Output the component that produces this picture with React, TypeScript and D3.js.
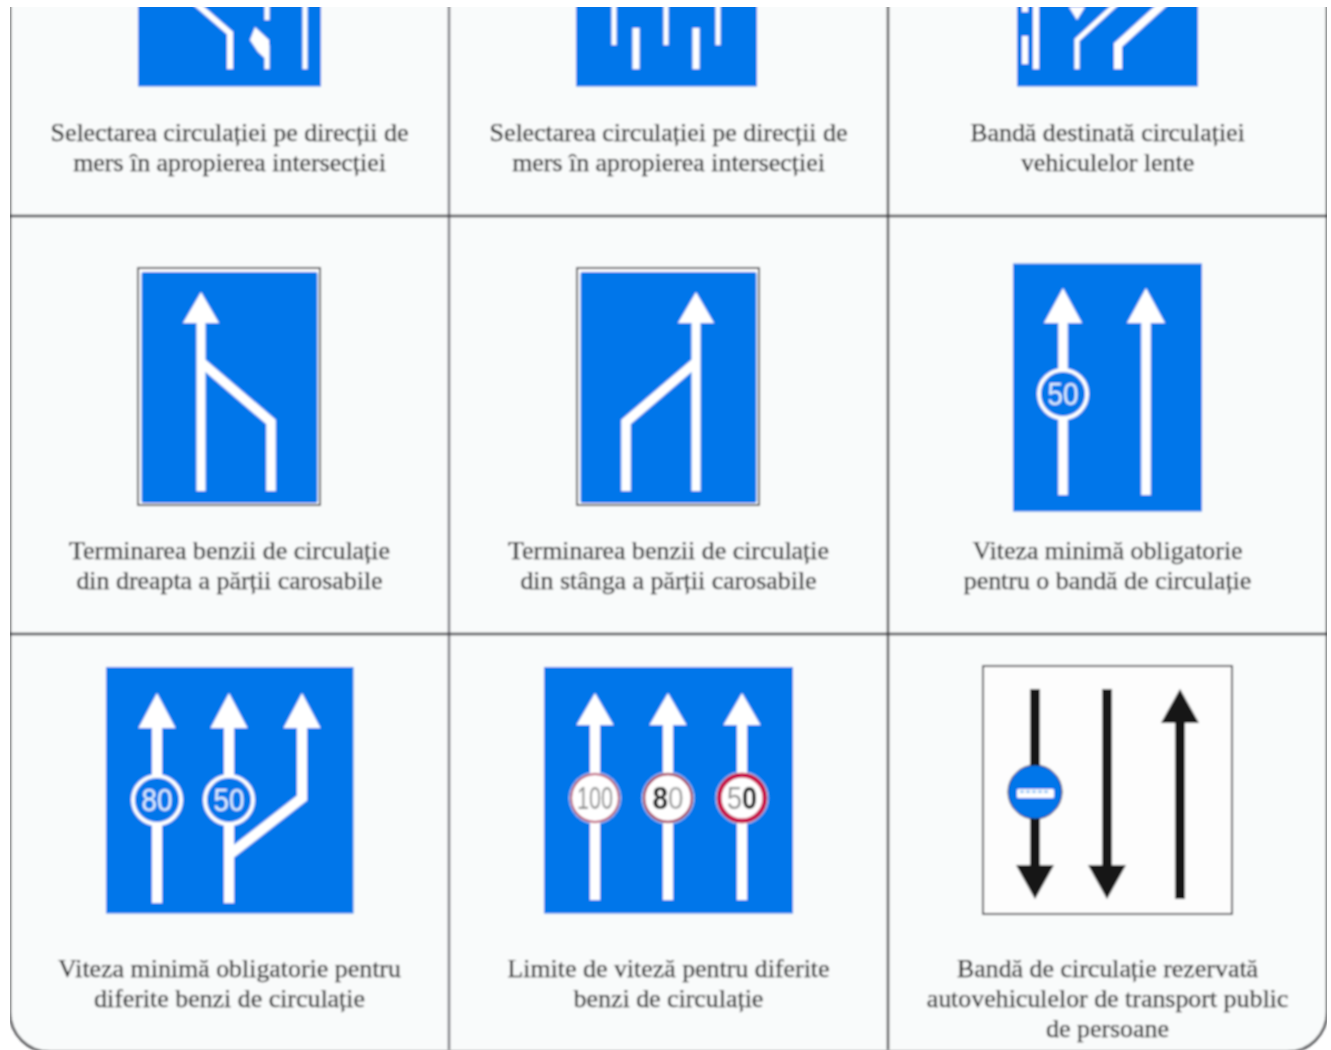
import * as d3 from 'd3';

const WIDTH = 1331;
const HEIGHT = 1050;

const BLUE = '#0676ea';
const INK = '#141414';
const GRID = '#3e3e42';

// grid: 3 columns, rows repeat every 418px, first row is cut off by the top of the page
const colEdges = [0, 1, 2, 3];
const rowEdges = [-1, 0, 1, 2];
const colStroke = ['#6e6e74', '#404044'];
const colScale = d3.scaleLinear().domain([0, 3]).range([10, 1327]);
const rowScale = d3.scaleLinear().domain([0, 2]).range([216, 1052]);

const captions = [
  { col: 0, row: -1, lines: ['Selectarea circulației pe direcții de', 'mers în apropierea intersecției'] },
  { col: 1, row: -1, lines: ['Selectarea circulației pe direcții de', 'mers în apropierea intersecției'] },
  { col: 2, row: -1, lines: ['Bandă destinată circulației', 'vehiculelor lente'] },
  { col: 0, row: 0, lines: ['Terminarea benzii de circulație', 'din dreapta a părții carosabile'] },
  { col: 1, row: 0, lines: ['Terminarea benzii de circulație', 'din stânga a părții carosabile'] },
  { col: 2, row: 0, lines: ['Viteza minimă obligatorie', 'pentru o bandă de circulație'] },
  { col: 0, row: 1, lines: ['Viteza minimă obligatorie pentru', 'diferite benzi de circulație'] },
  { col: 1, row: 1, lines: ['Limite de viteză pentru diferite', 'benzi de circulație'] },
  { col: 2, row: 1, lines: ['Bandă de circulație rezervată', 'autovehiculelor de transport public', 'de persoane'] },
];

// sign plates, in cell units: [x0, y0, x1, y1]
const plates = [
  { col: 0, row: -1, box: [128, 52, 311, 288.5], kind: 'blue' },
  { col: 1, row: -1, box: [127, 52, 308, 288.5], kind: 'blue' },
  { col: 2, row: -1, box: [129, 52, 310, 288.5], kind: 'blue' },
  { col: 0, row: 0, box: [128, 52, 310, 289], kind: 'framed' },
  { col: 1, row: 0, box: [128, 52, 310, 289], kind: 'framed' },
  { col: 2, row: 0, box: [125, 47.5, 314, 295.5], kind: 'blue' },
  { col: 0, row: 1, box: [96, 33, 343.5, 279.5], kind: 'blue' },
  { col: 1, row: 1, box: [95, 33, 344, 279.5], kind: 'blue' },
  { col: 2, row: 1, box: [95, 32, 344, 280], kind: 'white' },
];

// lane strokes, in cell units
const lanes = [
  { col: 0, row: -1, w: 6, pts: [[160, 183], [220, 235], [220, 271]] },
  { col: 0, row: -1, w: 5, pts: [[295, 150], [295, 271]] },
  { col: 0, row: -1, w: 5, pts: [[257, 150], [257, 222]] },
  { col: 0, row: -1, w: 5, pts: [[257, 247], [257, 271]] },
  { col: 1, row: -1, w: 5, pts: [[165, 150], [165, 247]] },
  { col: 1, row: -1, w: 7, pts: [[187, 230], [187, 271]] },
  { col: 1, row: -1, w: 5, pts: [[217, 150], [217, 247]] },
  { col: 1, row: -1, w: 7, pts: [[247, 230], [247, 271]] },
  { col: 1, row: -1, w: 5, pts: [[269, 150], [269, 247]] },
  { col: 2, row: -1, w: 6, pts: [[137, 150], [137, 214]] },
  { col: 2, row: -1, w: 6, pts: [[137, 238], [137, 266]] },
  { col: 2, row: -1, w: 6, pts: [[148, 150], [148, 271]] },
  { col: 2, row: -1, w: 5, pts: [[189, 271], [189, 242], [265, 172]] },
  { col: 2, row: -1, w: 8, pts: [[230, 271], [230, 247], [297, 186]] },
  { col: 0, row: 0, w: 9, pts: [[191, 107], [191, 275]] },
  { col: 0, row: 0, w: 9.5, pts: [[191, 146], [261, 206], [261, 275]] },
  { col: 1, row: 0, w: 9, pts: [[247, 107], [247, 275]] },
  { col: 1, row: 0, w: 9.5, pts: [[247, 146], [177, 206], [177, 275]] },
  { col: 2, row: 0, w: 9.5, pts: [[175, 107], [175, 279]] },
  { col: 2, row: 0, w: 9.5, pts: [[258, 107], [258, 279]] },
  { col: 0, row: 1, w: 10, pts: [[147, 94], [147, 269]] },
  { col: 0, row: 1, w: 10, pts: [[219, 94], [219, 269]] },
  { col: 0, row: 1, w: 10, pts: [[292, 94], [292, 164], [219, 221]] },
  { col: 1, row: 1, w: 10, pts: [[146, 91], [146, 266]] },
  { col: 1, row: 1, w: 10, pts: [[219, 91], [219, 266]] },
  { col: 1, row: 1, w: 10, pts: [[293, 91], [293, 266]] },
  { col: 2, row: 1, w: 10, dark: true, pts: [[147, 55], [147, 235]] },
  { col: 2, row: 1, w: 10, dark: true, pts: [[219, 55], [219, 235]] },
  { col: 2, row: 1, w: 10, dark: true, pts: [[292, 89], [292, 265]] },
];

// arrow heads: tip and base centre, half width
const heads = [
  { col: 0, row: 0, x: 191, tip: 76, base: 107, hw: 18 },
  { col: 1, row: 0, x: 247, tip: 76, base: 107, hw: 18 },
  { col: 2, row: 0, x: 175, tip: 72, base: 107, hw: 19 },
  { col: 2, row: 0, x: 258, tip: 72, base: 107, hw: 19 },
  { col: 0, row: 1, x: 147, tip: 59, base: 94, hw: 18.5 },
  { col: 0, row: 1, x: 219, tip: 59, base: 94, hw: 18.5 },
  { col: 0, row: 1, x: 292, tip: 59, base: 94, hw: 18.5 },
  { col: 1, row: 1, x: 146, tip: 59, base: 91, hw: 18.5 },
  { col: 1, row: 1, x: 219, tip: 59, base: 91, hw: 18.5 },
  { col: 1, row: 1, x: 293, tip: 59, base: 91, hw: 18.5 },
  { col: 2, row: 1, x: 147, tip: 265, base: 231, hw: 19, dark: true },
  { col: 2, row: 1, x: 219, tip: 265, base: 231, hw: 19, dark: true },
  { col: 2, row: 1, x: 292, tip: 55, base: 89, hw: 19, dark: true },
];

// odd shapes in the cut-off signs
const blobs = [
  { col: 0, row: -1, pts: [[245, 229], [240, 242], [248, 254], [259, 264], [259, 242]] },
  { col: 2, row: -1, pts: [[181, 209], [197, 209], [189, 222]] },
];

// speed discs. digits carry their own colour and weight where the scan smeared them
const discs = [
  { col: 2, row: 0, x: 175, y: 178, r: 24, ring: '#fff', ringW: 4, fill: BLUE, span: 31, digits: [{ t: '50', c: '#e6f3ff' }] },
  { col: 0, row: 1, x: 147, y: 166, r: 24, ring: '#fff', ringW: 4, fill: BLUE, span: 31, digits: [{ t: '80', c: '#e6f3ff' }] },
  { col: 0, row: 1, x: 219, y: 166, r: 24, ring: '#fff', ringW: 4, fill: BLUE, span: 31, digits: [{ t: '50', c: '#e6f3ff' }] },
  { col: 1, row: 1, x: 146, y: 164, r: 24, ring: '#b5305c', ringW: 2, fill: '#fff', span: 36, digits: [{ t: '100', c: '#8a8a8a' }] },
  { col: 1, row: 1, x: 219, y: 164, r: 24, ring: '#a52a55', ringW: 2.5, fill: '#fff', span: 31, digits: [{ t: '8', c: '#000', b: true }, { t: '0', c: '#9a9a9a' }] },
  { col: 1, row: 1, x: 293, y: 164, r: 23, ring: '#c8104a', ringW: 5, fill: '#fff', span: 30, digits: [{ t: '5', c: '#8a8a8a' }, { t: '0', c: '#000', b: true }] },
];

// bus disc on the last sign
const busDisc = { col: 2, row: 1, x: 147, y: 158, r: 27 };
const busBody = [129, 155, 37, 9];
const busWindows = [132, 138, 144, 150, 156];

function cellX(col: number) {
  return d3.scaleLinear().domain([0, 439]).range([colScale(col), colScale(col + 1)]);
}

function cellY(row: number) {
  return d3.scaleLinear().domain([0, 418]).range([rowScale(row), rowScale(row + 1)]);
}

function path(col: number, row: number, pts: number[][], closed = false) {
  const x = cellX(col);
  const y = cellY(row);
  const line = d3.line<number[]>().x(d => x(d[0])).y(d => y(d[1]));
  return line(pts) + (closed ? 'Z' : '');
}

function Plate({ p }: { p: (typeof plates)[number] }) {
  const x = cellX(p.col);
  const y = cellY(p.row);
  const [x0, y0, x1, y1] = p.box;
  const common = { x: x(x0), y: y(y0), width: x(x1) - x(x0), height: y(y1) - y(y0) };
  if (p.kind === 'framed') {
    return (
      <g>
        <rect {...common} fill="#fff" stroke="#3e3e42" strokeWidth={1.8} />
        <rect x={x(x0) + 3.5} y={y(y0) + 4} width={x(x1) - x(x0) - 6} height={y(y1) - y(y0) - 6} rx={2} fill={BLUE} />
      </g>
    );
  }
  if (p.kind === 'white') {
    return <rect {...common} fill="#fdfdfd" stroke="#3e3e42" strokeWidth={1.8} />;
  }
  return <rect {...common} fill={BLUE} />;
}

function Disc({ d }: { d: (typeof discs)[number] }) {
  const cx = cellX(d.col)(d.x);
  const cy = cellY(d.row)(d.y);
  return (
    <g>
      <circle cx={cx} cy={cy} r={d.r} fill={d.fill} stroke={d.ring} strokeWidth={d.ringW} />
      {d.fill !== BLUE && <circle cx={cx} cy={cy} r={d.r + d.ringW / 2 + 0.5} fill="none" stroke="#fff" strokeWidth={0.8} />}
      <text
        x={cx}
        y={cy + 11}
        textAnchor="middle"
        fontFamily="'Liberation Sans', sans-serif"
        fontSize={31}
        textLength={d.span}
        lengthAdjust="spacingAndGlyphs"
      >
        {d.digits.map((g, i) => (
          <tspan key={i} fill={g.c} fontWeight={g.b ? 700 : 400}>{g.t}</tspan>
        ))}
      </text>
    </g>
  );
}

function BusDisc() {
  const x = cellX(busDisc.col);
  const y = cellY(busDisc.row);
  const [bx, by, bw, bh] = busBody;
  return (
    <g>
      <circle cx={x(busDisc.x)} cy={y(busDisc.y)} r={busDisc.r} fill={BLUE} stroke="#223" strokeWidth={1} />
      <rect x={x(bx)} y={y(by)} width={bw} height={bh} rx={1.5} fill="#fff" />
      {busWindows.map(w => (
        <rect key={w} x={x(w)} y={y(by) + 1.5} width={4} height={2.5} fill="#8fc4f5" />
      ))}
    </g>
  );
}

export default function App() {
  // the bottom edge of the frame falls just outside the crop, only the corners show
  const bottom = 1052;
  const radius = 40;
  const left = colScale(0);
  const right = colScale(3);
  const frame = d3.path();
  frame.moveTo(left, 0);
  frame.lineTo(left, bottom - radius);
  frame.arcTo(left, bottom, left + radius, bottom, radius);
  frame.lineTo(right - radius, bottom);
  frame.arcTo(right, bottom, right, bottom - radius, radius);
  frame.lineTo(right, 0);

  return (
    <svg
      width={WIDTH}
      height={HEIGHT}
      viewBox={`0 0 ${WIDTH} ${HEIGHT}`}
      style={{ position: 'absolute', left: 0, top: 0, background: '#fff' }}
    >
      <defs>
        <filter id="scan" x="0" y="0" width="100%" height="100%">
          <feGaussianBlur stdDeviation="0.8" />
        </filter>
      </defs>
      <g filter="url(#scan)">
        <path d={frame.toString()} fill="#f9fbfb" stroke={GRID} strokeWidth={2.4} />
        {colEdges.slice(1, 3).map((c, i) => (
          <line key={c} x1={colScale(c)} x2={colScale(c)} y1={0} y2={HEIGHT} stroke={colStroke[i]} strokeWidth={2.4} />
        ))}
        {rowEdges.slice(1, 3).map(r => (
          <line key={r} x1={left} x2={right} y1={rowScale(r)} y2={rowScale(r)} stroke={GRID} strokeWidth={2.4} />
        ))}

        {plates.map((p, i) => <Plate key={i} p={p} />)}

        {lanes.map((l, i) => (
          <path
            key={i}
            d={path(l.col, l.row, l.pts) as string}
            fill="none"
            stroke={l.dark ? INK : '#fff'}
            strokeWidth={l.w}
            strokeLinejoin="miter"
          />
        ))}
        {heads.map((h, i) => (
          <path
            key={i}
            d={path(h.col, h.row, [[h.x, h.tip], [h.x + h.hw, h.base], [h.x - h.hw, h.base]], true)}
            fill={h.dark ? INK : '#fff'}
          />
        ))}
        {blobs.map((b, i) => (
          <path key={i} d={path(b.col, b.row, b.pts, true)} fill="#fff" />
        ))}
        {discs.map((d, i) => <Disc key={i} d={d} />)}
        <BusDisc />

        {captions.map((c, i) => (
          <text
            key={i}
            x={cellX(c.col)(219.5)}
            textAnchor="middle"
            fontFamily="'Liberation Serif', serif"
            fontSize={25.9}
            fill="#0c0c0e"
            stroke="#0c0c0e"
            strokeWidth={0.25}
          >
            {c.lines.map((line, j) => (
              <tspan key={j} x={cellX(c.col)(219.5)} y={cellY(c.row)(343 + j * 30)}>{line}</tspan>
            ))}
          </text>
        ))}
      </g>
      {/* the scan is cropped just above the first row */}
      <rect x={0} y={0} width={WIDTH} height={7} fill="#fff" />
    </svg>
  );
}
